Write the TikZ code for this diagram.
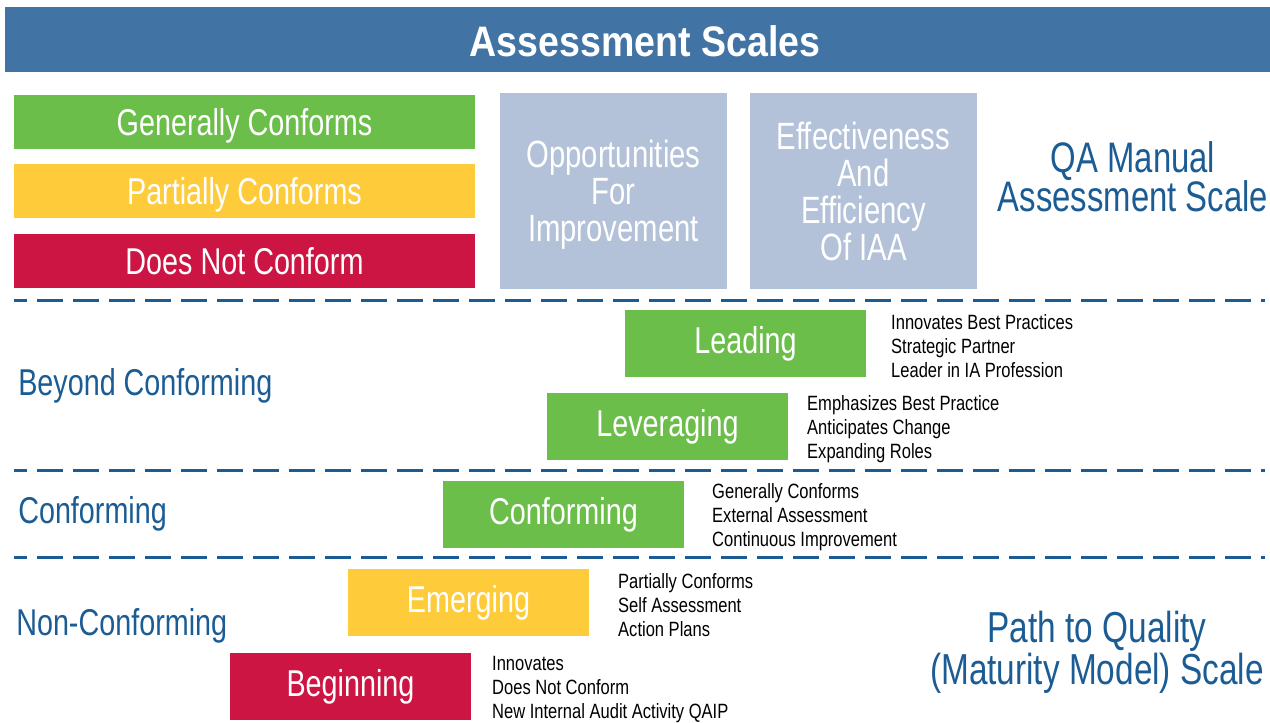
\documentclass[tikz,border=0pt]{standalone}
\usepackage{fontspec}
\setmainfont[FakeStretch=0.77]{Liberation Sans}
\newfontfamily\titlefont[FakeStretch=0.88]{Liberation Sans}
\newfontfamily\notefont[FakeStretch=0.8]{Liberation Sans}
\usetikzlibrary{positioning}

\definecolor{bannerblue}{RGB}{65,115,164}
\definecolor{inkblue}{RGB}{27,92,148}
\definecolor{conformgreen}{RGB}{107,190,74}
\definecolor{partyellow}{RGB}{254,203,58}
\definecolor{notred}{RGB}{205,21,68}
\definecolor{oppgrey}{RGB}{179,193,217}

\tikzset{
  scalebox/.style={minimum width=345.75pt, minimum height=40.5pt, inner sep=0pt, text depth=0pt, text=white, font=\fontsize{28}{30}\selectfont},
  greybox/.style={fill=oppgrey, minimum width=170.25pt, minimum height=147pt, inner sep=0pt, text depth=0pt, text=white, align=center, font=\fontsize{28.5}{27.75}\selectfont},
  levelbox/.style={minimum width=180.75pt, minimum height=50.25pt, inner sep=0pt, text=white, font=\fontsize{28}{30}\selectfont},
  notes/.style 2 args={right=#2 of #1, yshift=-2pt, inner sep=0pt, align=left, font=\notefont\fontsize{15.5}{18}\selectfont},
  bandlabel/.style={anchor=west, inner sep=0pt, text=inkblue, font=\fontsize{28}{30}\selectfont},
  scalename/.style={inner sep=0pt, text=inkblue, align=center},
  bandline/.style={draw=inkblue, line width=2.25pt, dash pattern=on 19.5pt off 7.5pt, dash phase=9.75pt}
}

\begin{document}
\begin{tikzpicture}[x=0.75pt,y=0.75pt,yscale=-1,xscale=1]
\useasboundingbox (0,0) rectangle (1270,723);

%Shape: Rectangle [banner]
\fill [bannerblue] (5,7) rectangle (1270,72);
% Text Node
\node (title) at (645,41) [text=white, inner sep=0pt, font=\titlefont\bfseries\fontsize{32}{34}\selectfont] {Assessment Scales};

%QA manual scale
\node (gc) at (244.5,122) [scalebox, fill=conformgreen] {Generally Conforms};
\node (pc) at (244.5,191) [scalebox, fill=partyellow] {Partially Conforms};
\node (dnc) at (244.5,261) [scalebox, fill=notred] {Does Not Conform};
\node (ofi) at (613.5,191) [greybox] {Opportunities\\For\\Improvement};
\node (eff) at (863.5,191) [greybox] {Effectiveness\\And\\Efficiency\\Of IAA};
\node (qam) at (1133,177) [scalename, font=\fontsize{32}{29.25}\selectfont] {QA Manual\\Assessment Scale};

%Straight Lines [dashed]
\draw [bandline] (14,301) -- (1265,301);
\draw [bandline] (14,470) -- (1265,470);
\draw [bandline] (14,557) -- (1265,557);

%Path to quality levels
\node (lead) at (745.5,343.5) [levelbox, fill=conformgreen] {Leading};
\node (lev) at (667.5,426.5) [levelbox, fill=conformgreen] {Leveraging};
\node (conf) at (563.5,514.5) [levelbox, fill=conformgreen] {Conforming};
\node (emer) at (468.5,602.5) [levelbox, fill=partyellow] {Emerging};
\node (begin) at (350.5,686.5) [levelbox, fill=notred] {Beginning};

% Text Node
\node (leadtxt) [notes={lead}{18.5pt}] {Innovates Best Practices\\Strategic Partner\\Leader in IA Profession};
\node (levtxt) [notes={lev}{14pt}] {Emphasizes Best Practice\\Anticipates Change\\Expanding Roles};
\node (conftxt) [notes={conf}{20.75pt}] {Generally Conforms\\External Assessment\\Continuous Improvement};
\node (emertxt) [notes={emer}{21.5pt}] {Partially Conforms\\Self Assessment\\Action Plans};
\node (begintxt) [notes={begin}{15.5pt}] {Innovates\\Does Not Conform\\New Internal Audit Activity QAIP};

% Text Node
\node (beyond) at (18,386) [bandlabel] {Beyond Conforming};
\node (conforming) at (18,514) [bandlabel] {Conforming};
\node (nonconf) at (16,626) [bandlabel] {Non-Conforming};
\node (ptq) at (1097,652) [scalename, font=\fontsize{32.5}{31.5}\selectfont] {Path to Quality\\(Maturity Model) Scale};
\end{tikzpicture}
\end{document}
